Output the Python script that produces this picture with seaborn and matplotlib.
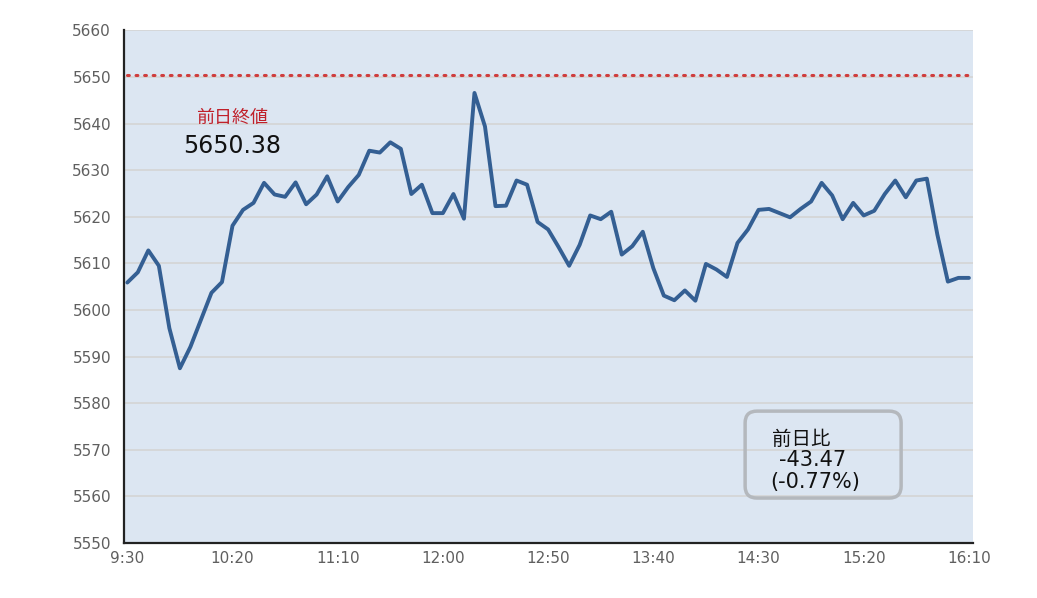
import matplotlib
matplotlib.use("Agg")
import matplotlib.pyplot as plt
from matplotlib.patches import FancyBboxPatch
import numpy as np
import pandas as pd
import seaborn as sns

# 5分足 9:30 - 16:10
minutos = list(range(0, 405, 5))
valores = [
    5605.9, 5608.1, 5612.8, 5609.5, 5596.1, 5587.5, 5592.1, 5597.9, 5603.7, 5606.0,
    5618.1, 5621.5, 5623.0, 5627.3, 5624.8, 5624.3, 5627.4, 5622.7, 5624.8, 5628.7,
    5623.3, 5626.4, 5629.0, 5634.2, 5633.8, 5636.0, 5634.6, 5624.9, 5626.9, 5620.8,
    5620.8, 5624.9, 5619.6, 5646.6, 5639.4, 5622.3, 5622.4, 5627.8, 5626.9, 5618.9,
    5617.3, 5613.5, 5609.5, 5614.0, 5620.3, 5619.5, 5621.1, 5611.9, 5613.7, 5616.8,
    5609.0, 5603.1, 5602.1, 5604.2, 5602.0, 5609.9, 5608.7, 5607.1, 5614.4, 5617.3,
    5621.5, 5621.7, 5620.8, 5619.9, 5621.7, 5623.3, 5627.3, 5624.6, 5619.5, 5623.0,
    5620.3, 5621.3, 5624.9, 5627.8, 5624.2, 5627.8, 5628.2, 5616.2, 5606.1, 5606.9,
    5606.9,
]
cierre_anterior = 5650.38
etiquetas_x = ["9:30", "10:20", "11:10", "12:00", "12:50", "13:40", "14:30", "15:20", "16:10"]
posiciones_x = [0, 50, 100, 150, 200, 250, 300, 350, 400]
marcas_x = [22.5, 72.5, 122.5, 172.5, 222.5, 272.5, 322.5, 372.5, 397.5]
ticks_y = list(range(5550, 5661, 10))

sns.set_style("white")
plt.rcParams["font.family"] = ["DejaVu Sans", "Noto Sans CJK JP"]
cjk = ["Noto Sans CJK JP", "DejaVu Sans"]

tabla = pd.DataFrame({"minuto": minutos, "valor": valores})

fig = plt.figure(figsize=(10.37, 5.98), dpi=100)
ax = fig.add_axes([0.1191, 0.092, 0.8189, 0.8570])
ax.set_facecolor("#dce6f2")

for t in ticks_y:
    ax.axhline(t, color="#d4d4d4", linewidth=1.2, zorder=1)

ax.plot([0, 400], [cierre_anterior, cierre_anterior], color="#cf3d3d",
        linewidth=2.2, linestyle=(0, (0.6, 2.2)), dash_capstyle="round", zorder=2)

sns.lineplot(data=tabla, x="minuto", y="valor", ax=ax, color="#345f93",
             linewidth=2.8, zorder=3)

ax.set_xlim(-1.8, 401.8)
ax.set_ylim(5550, 5660)
ax.set_yticks(ticks_y)
ax.set_yticklabels([str(t) for t in ticks_y], color="#5f5f5f", fontsize=11)
ax.set_xticks(posiciones_x)
ax.set_xticklabels(etiquetas_x, color="#5f5f5f", fontsize=11)
ax.set_xticks(marcas_x, minor=True)
ax.tick_params(axis="x", which="major", length=0, pad=6)
ax.tick_params(axis="x", which="minor", direction="in", length=4, width=1.2, color="#222222")
ax.tick_params(axis="y", which="major", direction="out", length=4, width=1.2,
               color="#222222", pad=5)
ax.set_xlabel("")
ax.set_ylabel("")

for lado in ["top", "right"]:
    ax.spines[lado].set_visible(False)
for lado in ["left", "bottom"]:
    ax.spines[lado].set_color("#222222")
    ax.spines[lado].set_linewidth(1.6)

ax.text(0.0854, 0.830, "前日終値", transform=ax.transAxes, color="#c0202a",
        fontsize=13, ha="left", va="center", family=cjk)
ax.text(0.070, 0.774, "5650.38", transform=ax.transAxes, color="#111111",
        fontsize=17, ha="left", va="center")

caja = FancyBboxPatch((0.732, 0.0877), 0.1837, 0.1696, transform=ax.transAxes,
                      boxstyle="round,pad=0,rounding_size=0.014", facecolor="none",
                      edgecolor="#b4b8bd", linewidth=2.5, zorder=4,
                      mutation_aspect=1.65)
ax.add_patch(caja)
ax.text(0.7635, 0.2027, "前日比", transform=ax.transAxes, fontsize=14,
        color="#111111", ha="left", va="center", family=cjk)
ax.text(0.772, 0.1618, "-43.47", transform=ax.transAxes, fontsize=15,
        color="#111111", ha="left", va="center")
ax.text(0.7615, 0.119, "(-0.77%)", transform=ax.transAxes, fontsize=15,
        color="#111111", ha="left", va="center")

fig.savefig("out.png", dpi=100)
plt.close()
